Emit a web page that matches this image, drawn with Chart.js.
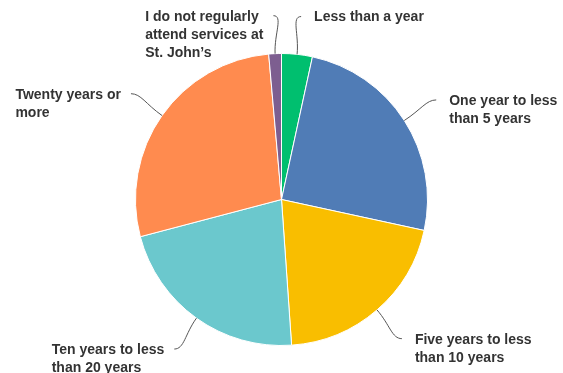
<!DOCTYPE html>
<html>
<head>
<meta charset="utf-8">
<script src="https://cdn.jsdelivr.net/npm/chart.js@4/dist/chart.umd.min.js"></script>
<style>
  html, body { margin: 0; padding: 0; background: #fff; }
  #wrap { width: 563px; height: 373px; }
</style>
</head>
<body>
<div id="wrap"><canvas id="myChart" width="563" height="373"></canvas></div>
<script>
// answers, clockwise from the top
const categories = [
    ['Less than a year'],
    ['One year to less', 'than 5 years'],
    ['Five years to less', 'than 10 years'],
    ['Ten years to less', 'than 20 years'],
    ['Twenty years or', 'more'],
    ['I do not regularly', 'attend services at', 'St. John\u2019s']
];
const percents = [3.4, 25.0, 20.5, 22.0, 27.7, 1.4];
const colors = ['#00bf6f', '#507cb6', '#f9be00', '#6bc8cd', '#ff8b4f', '#7d5e90'];

// draws the labels outside the pie with a curved leader line
const outsideLabels = {
    id: 'outsideLabels',
    afterDraw(chart) {
        const ctx = chart.ctx;
        const meta = chart.getDatasetMeta(0);
        ctx.save();
        ctx.font = 'bold 14px "Liberation Sans", Arial, sans-serif';
        ctx.fillStyle = '#333';
        ctx.strokeStyle = '#555';
        ctx.lineWidth = 1;
        meta.data.forEach(function (arc, i) {
            const p = arc.getProps(['x', 'y', 'startAngle', 'endAngle', 'outerRadius'], true);
            const mid = (p.startAngle + p.endAngle) / 2;
            const cos = Math.cos(mid);
            const sin = Math.sin(mid);
            const dir = cos >= 0 ? 1 : -1;
            const r0 = p.outerRadius;
            const x0 = p.x + cos * r0, y0 = p.y + sin * r0;
            const x1 = p.x + cos * (r0 + 20), y1 = p.y + sin * (r0 + 20);
            const x3 = p.x + cos * (r0 + 38), y3 = p.y + sin * (r0 + 38);
            const x2 = x3 - dir * 10, y2 = y3;
            ctx.beginPath();
            ctx.moveTo(x0, y0);
            ctx.bezierCurveTo(x1, y1, x2, y2, x3, y3);
            ctx.stroke();

            // text block is left aligned; on the left side it ends at the leader
            const lines = chart.data.labels[i];
            let w = 0;
            lines.forEach(function (l) { w = Math.max(w, ctx.measureText(l).width); });
            const tx = dir > 0 ? x3 + 13 : x3 - 10 - w;
            ctx.textAlign = 'left';
            ctx.textBaseline = 'middle';
            for (let j = 0; j < lines.length; j++) {
                ctx.fillText(lines[j], tx, y3 + 1 + j * 18);
            }
        });
        ctx.restore();
    }
};

const ctx = document.getElementById('myChart').getContext('2d');
new Chart(ctx, {
    type: 'pie',
    data: {
        labels: categories,
        datasets: [{
            data: percents,
            backgroundColor: colors,
            borderColor: '#ffffff',
            borderWidth: 1,
            hoverOffset: 0
        }]
    },
    options: {
        responsive: false,
        animation: false,
        layout: { padding: { top: 53, bottom: 27, left: 135, right: 135 } },
        plugins: {
            legend: { display: false },
            tooltip: { enabled: false }
        }
    },
    plugins: [outsideLabels]
});
</script>
</body>
</html>
